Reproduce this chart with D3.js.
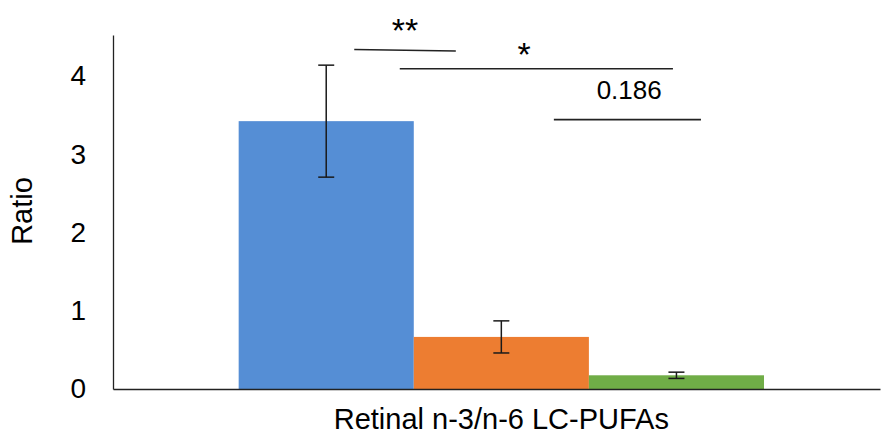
<!DOCTYPE html>
<html>
<head>
<meta charset="utf-8">
<script src="https://cdn.jsdelivr.net/npm/d3@7"></script>
<style>
  body { margin: 0; background: #fff; }
  svg text { font-family: Arial, "Liberation Sans", sans-serif; }
</style>
</head>
<body>
<div id="chart"></div>
<script>
  // data
  const categories = ['Retinal n-3/n-6 LC-PUFAs'];
  const groups = ['A', 'B', 'C'];
  const values = [3.42, 0.665, 0.175];
  const errors = [0.715, 0.205, 0.04];
  const yTicks = [0, 1, 2, 3, 4];
  const colors = ['#558ed5', '#ed7d31', '#70ad47'];
  // significance marks: x in bar units (bar i spans i..i+1), y in ratio units
  const sigLabels = ['**', '*', '0.186'];
  const sigLines = [[0.66, 1.24, 4.335, 4.315], [0.92, 2.48, 4.09, 4.09], [1.80, 2.64, 3.44, 3.44]];
  const sigText = [[0.95, 4.43], [1.63, 4.13], [2.23, 3.70]];

  const W = 884, H = 435;
  const svg = d3.select('#chart').append('svg')
    .attr('width', W)
    .attr('height', H);

  const x0 = d3.scaleBand()
    .domain(categories)
    .range([113, 880])
    .paddingInner(0.187)
    .paddingOuter(0.187)
    .align(0.52);

  const x1 = d3.scaleBand()
    .domain(groups)
    .range([0, x0.bandwidth()]);

  const y = d3.scaleLinear()
    .domain([0, 4.52])
    .range([389, 35]);

  // bar-unit scale for annotations
  const xu = d3.scaleLinear()
    .domain([0, groups.length])
    .range([x0(categories[0]), x0(categories[0]) + x0.bandwidth()]);

  // bars
  svg.append('g').selectAll('rect')
    .data(values)
    .enter()
    .append('rect')
    .attr('x', (d, i) => x0(categories[0]) + x1(groups[i]))
    .attr('y', d => y(d))
    .attr('width', x1.bandwidth())
    .attr('height', d => y(0) - y(d))
    .attr('fill', (d, i) => colors[i]);

  // error bars
  const eb = svg.append('g').attr('stroke', '#1a1a1a').attr('stroke-width', 1.5);
  values.forEach((v, i) => {
    const cx = x0(categories[0]) + x1(groups[i]) + x1.bandwidth() / 2;
    eb.append('line').attr('x1', cx).attr('x2', cx).attr('y1', y(v + errors[i])).attr('y2', y(v - errors[i]));
    eb.append('line').attr('x1', cx - 8).attr('x2', cx + 8).attr('y1', y(v + errors[i])).attr('y2', y(v + errors[i]));
    eb.append('line').attr('x1', cx - 8).attr('x2', cx + 8).attr('y1', y(v - errors[i])).attr('y2', y(v - errors[i]));
  });

  // axes
  const xAxis = d3.axisBottom(x0).tickSize(0).tickSizeOuter(0).tickPadding(19);
  const yAxis = d3.axisLeft(y).tickValues(yTicks).tickFormat(d3.format('d')).tickSize(0).tickSizeOuter(0).tickPadding(27);

  const gx = svg.append('g')
    .attr('transform', 'translate(0,' + y(0) + ')')
    .call(xAxis);
  const gy = svg.append('g')
    .attr('transform', 'translate(113,0)')
    .call(yAxis);

  [gx, gy].forEach(g => {
    g.select('.domain').attr('stroke', '#222').attr('stroke-width', 1.3);
    g.selectAll('text').attr('fill', '#000')
      .attr('font-family', 'Arial, "Liberation Sans", sans-serif');
  });
  gx.selectAll('text').attr('font-size', 29);
  gy.selectAll('text').attr('font-size', 28);

  svg.append('text')
    .attr('transform', 'translate(32,' + 211 + ') rotate(-90)')
    .attr('text-anchor', 'middle')
    .attr('font-size', 29)
    .text('Ratio');

  // significance annotations
  const ann = svg.append('g');
  sigLines.forEach(l => {
    ann.append('line')
      .attr('x1', xu(l[0])).attr('x2', xu(l[1]))
      .attr('y1', y(l[2])).attr('y2', y(l[3]))
      .attr('stroke', '#222').attr('stroke-width', 1.6);
  });
  sigText.forEach((t, i) => {
    ann.append('text')
      .attr('x', xu(t[0]))
      .attr('y', y(t[1]))
      .attr('text-anchor', 'middle')
      .attr('font-family', i < 2 ? '"DejaVu Sans", sans-serif' : 'Lato, "Open Sans", sans-serif')
      .attr('font-size', i < 2 ? 34 : 26)
      .text(sigLabels[i]);
  });
</script>
</body>
</html>
